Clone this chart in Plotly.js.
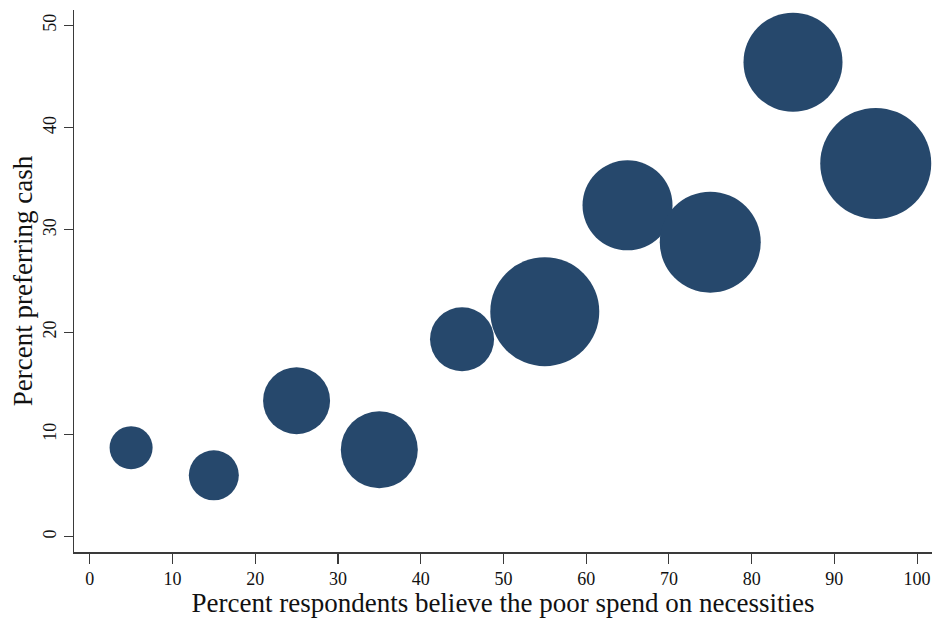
<!DOCTYPE html>
<html>
<head>
<meta charset="utf-8">
<script src="https://cdn.plot.ly/plotly-3.0.1.min.js"></script>
<style>
  html, body { margin: 0; padding: 0; background: #ffffff; }
  #chart { width: 934px; height: 618px; }
</style>
</head>
<body>
<div id="chart"></div>
<script>
// Share of respondents believing the poor spend on necessities (bin midpoints)
const necessitiesPct = [5, 15, 25, 35, 45, 55, 65, 75, 85, 95];
// Share of respondents preferring cash transfers in each bin
const cashPct = [8.7, 6.0, 13.3, 8.5, 19.3, 22.0, 32.4, 28.8, 46.4, 36.5];
// Number of respondents in each bin (bubble area)
const respondents = [185, 250, 449, 593, 410, 1188, 810, 1020, 980, 1232];

const xTicks = [0, 10, 20, 30, 40, 50, 60, 70, 80, 90, 100];
const yTicks = [0, 10, 20, 30, 40, 50];

const serif = "Liberation Serif, Times New Roman, serif";
const axisColor = "#3a3a3a";

const trace = {
  type: "scatter",
  mode: "markers",
  x: necessitiesPct,
  y: cashPct,
  marker: {
    size: respondents,
    sizemode: "area",
    sizeref: 0.2,
    color: "#26486c",
    opacity: 1,
    line: { width: 0 }
  },
  hoverinfo: "x+y",
  showlegend: false
};

const layout = {
  width: 934,
  height: 618,
  paper_bgcolor: "#ffffff",
  plot_bgcolor: "#ffffff",
  margin: { l: 74, r: 2, t: 10, b: 66, pad: 0 },
  font: { family: serif, color: "#111111" },
  xaxis: {
    range: [-1.9, 101.8],
    tickvals: xTicks,
    ticktext: xTicks.map(String),
    ticks: "outside",
    ticklen: 10,
    tickwidth: 1.2,
    tickcolor: axisColor,
    showline: true,
    linecolor: axisColor,
    linewidth: 1.5,
    showgrid: false,
    zeroline: false,
    tickfont: { family: serif, size: 18, color: "#111111" },
    title: {
      text: "Percent respondents believe the poor spend on necessities",
      font: { family: serif, size: 27, color: "#111111" },
      standoff: 0
    },
    automargin: false
  },
  yaxis: {
    range: [-1.5, 51.5],
    tickvals: yTicks,
    ticktext: yTicks.map(String),
    tickangle: -90,
    ticks: "outside",
    ticklen: 9,
    tickwidth: 1.2,
    tickcolor: axisColor,
    showline: true,
    linecolor: axisColor,
    linewidth: 1.5,
    showgrid: false,
    zeroline: false,
    tickfont: { family: serif, size: 18, color: "#111111" },
    title: {
      text: "Percent preferring cash",
      font: { family: serif, size: 27, color: "#111111" },
      standoff: 0
    },
    automargin: false
  }
};

Plotly.newPlot("chart", [trace], layout, { displayModeBar: false, staticPlot: true });
</script>
</body>
</html>
